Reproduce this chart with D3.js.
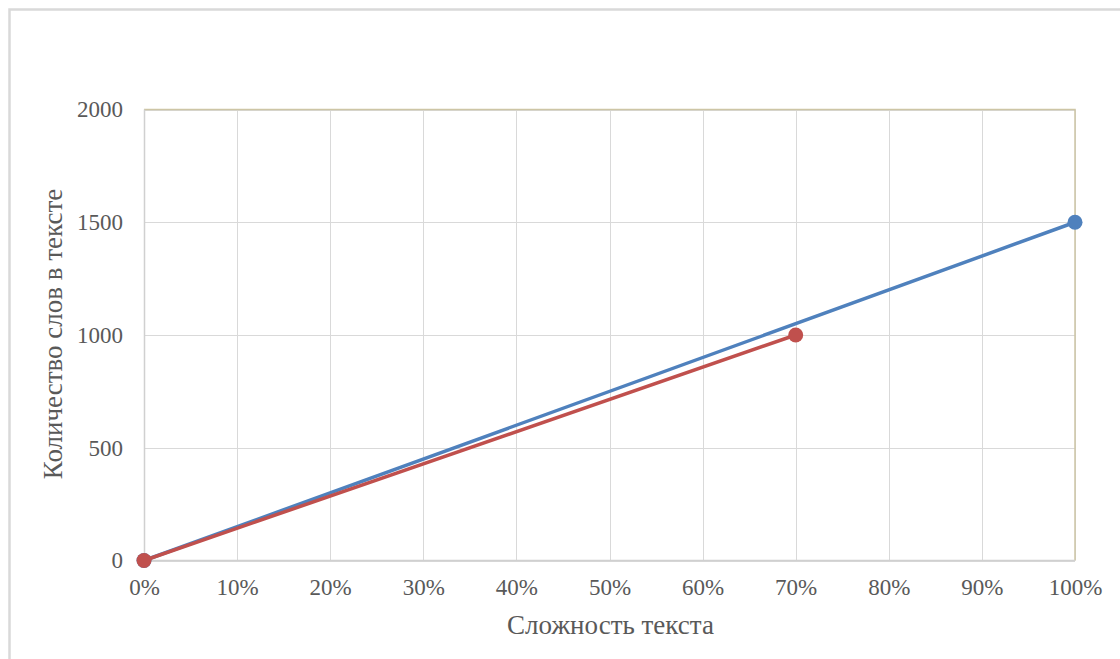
<!DOCTYPE html>
<html>
<head>
<meta charset="utf-8">
<script src="https://cdn.jsdelivr.net/npm/d3@7"></script>
<style>
  html, body { margin: 0; padding: 0; background: #fff; }
  svg { display: block; }
  text { font-family: "Liberation Serif", "Times New Roman", serif; fill: #595959; }
</style>
</head>
<body>
<svg id="chart" width="1120" height="659"></svg>
<script>
// Text complexity (share) vs. word count
const xTicks = [0, 0.1, 0.2, 0.3, 0.4, 0.5, 0.6, 0.7, 0.8, 0.9, 1.0];
const yTicks = [0, 500, 1000, 1500, 2000];
const seriesBlueX = [0, 1.0];
const seriesBlueY = [0, 1500];
const seriesRedX = [0, 0.7];
const seriesRedY = [0, 1000];
const xTitle = "Сложность текста";
const yTitle = "Количество слов в тексте";

const svg = d3.select("#chart");
const W = 1120, H = 659;

// outer chart frame (runs off the right and bottom edges)
svg.append("rect")
  .attr("x", 9.5).attr("y", 9.5)
  .attr("width", W + 20).attr("height", H + 20)
  .attr("fill", "#fff")
  .attr("stroke", "#d9d9d9").attr("stroke-width", 2.5);

const plot = { left: 144, top: 109.5, right: 1075, bottom: 560.5 };

const x = d3.scaleLinear().domain([0, 1]).range([plot.left, plot.right]);
const y = d3.scaleLinear().domain([0, 2000]).range([plot.bottom, plot.top]);

// gridlines
const grid = svg.append("g");
grid.selectAll("line.v").data(xTicks).join("line")
  .attr("x1", d => Math.round(x(d)) + 0.5).attr("x2", d => Math.round(x(d)) + 0.5)
  .attr("y1", plot.top).attr("y2", plot.bottom)
  .attr("stroke", "#d9d9d9").attr("stroke-width", 1);
grid.selectAll("line.h").data(yTicks).join("line")
  .attr("x1", plot.left).attr("x2", plot.right)
  .attr("y1", d => Math.round(y(d)) + 0.5).attr("y2", d => Math.round(y(d)) + 0.5)
  .attr("stroke", "#d9d9d9").attr("stroke-width", 1);

// plot-area top and right borders
svg.append("path")
  .attr("d", `M${plot.left},${plot.top}H${plot.right}V${plot.bottom}`)
  .attr("fill", "none").attr("stroke", "#cdc5a5").attr("stroke-width", 1.5);
// left and bottom axis lines
svg.append("path")
  .attr("d", `M${plot.left + 0.5},${plot.top}V${plot.bottom}H${plot.right}`)
  .attr("fill", "none").attr("stroke", "#d0d0d0").attr("stroke-width", 1.5);

// axes (labels only)
const xAxis = d3.axisBottom(x).tickValues(xTicks).tickFormat(d3.format(".0%")).tickSize(0).tickPadding(18);
const gx = svg.append("g").attr("transform", `translate(0,${plot.bottom})`).call(xAxis);
gx.select(".domain").remove();
gx.selectAll("text").attr("font-size", 23).attr("font-family", "Liberation Serif").attr("fill", "#595959");

const yAxis = d3.axisLeft(y).tickValues(yTicks).tickFormat(d3.format("d")).tickSize(0).tickPadding(21);
const gy = svg.append("g").attr("transform", `translate(${plot.left},0)`).call(yAxis);
gy.select(".domain").remove();
gy.selectAll("text").attr("font-size", 23).attr("font-family", "Liberation Serif").attr("fill", "#595959");

// axis titles
svg.append("text")
  .attr("x", (plot.left + plot.right) / 2 + 1).attr("y", 634)
  .attr("text-anchor", "middle").attr("font-size", 27)
  .text(xTitle);
svg.append("text")
  .attr("transform", `translate(62,${(plot.top + plot.bottom) / 2 - 1}) rotate(-90)`)
  .attr("text-anchor", "middle").attr("font-size", 27)
  .text(yTitle);

// series
const series = [
  { xs: seriesBlueX, ys: seriesBlueY, color: "#4f81bd" },
  { xs: seriesRedX, ys: seriesRedY, color: "#c0504d" }
];
const line = d3.line().x(d => x(d[0])).y(d => y(d[1]));
series.forEach(s => {
  const pts = s.xs.map((v, i) => [v, s.ys[i]]);
  svg.append("path").datum(pts)
    .attr("d", line)
    .attr("fill", "none").attr("stroke", s.color)
    .attr("stroke-width", 3.5).attr("stroke-linecap", "round");
  svg.append("g").selectAll("circle").data(pts).join("circle")
    .attr("cx", d => x(d[0])).attr("cy", d => y(d[1]))
    .attr("r", 7.5).attr("fill", s.color);
});
</script>
</body>
</html>
